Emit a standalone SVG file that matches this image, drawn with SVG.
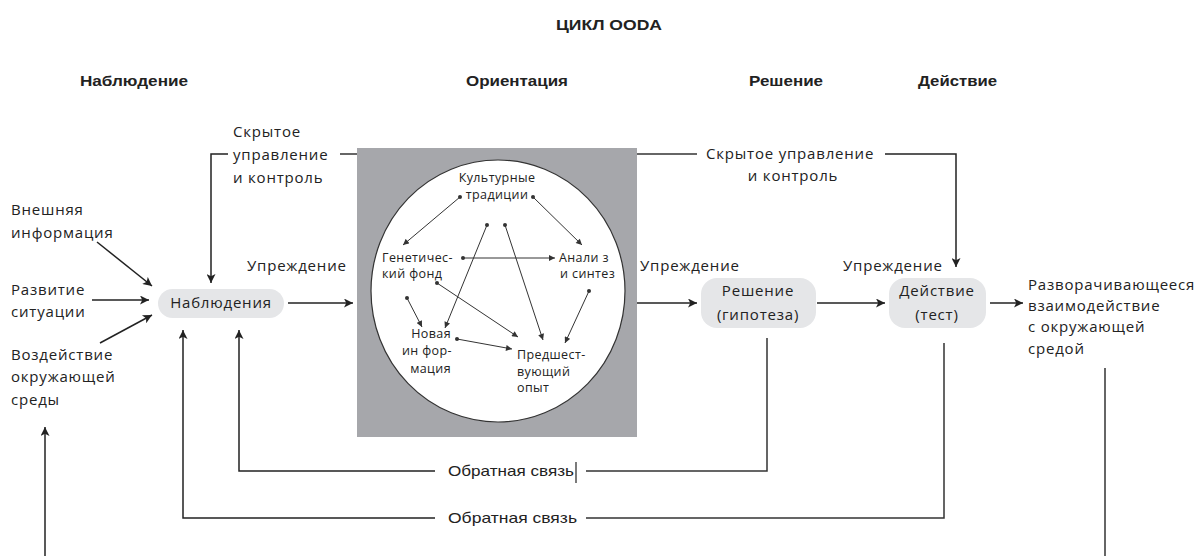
<svg xmlns="http://www.w3.org/2000/svg" width="1200" height="556" viewBox="0 0 1200 556">
<defs>
<marker id="ah" viewBox="0 0 10 10" refX="10" refY="5" markerWidth="11" markerHeight="9" markerUnits="userSpaceOnUse" orient="auto"><path d="M0,0 L10,5 L0,10 L2.5,5 Z" fill="#222"/></marker>
<marker id="sah" viewBox="0 0 10 10" refX="10" refY="5" markerWidth="7" markerHeight="6" markerUnits="userSpaceOnUse" orient="auto"><path d="M0,0 L10,5 L0,10 Z" fill="#333"/></marker>
<marker id="dot" viewBox="0 0 4 4" refX="2" refY="2" markerWidth="4" markerHeight="4" markerUnits="userSpaceOnUse"><circle cx="2" cy="2" r="2" fill="#333"/></marker>
</defs>
<style>
text{font-family:"Open Sans","Noto Sans","DejaVu Sans",sans-serif;fill:#222}
.t{font-size:15px;letter-spacing:0.8px}
.s{font-size:12.5px;letter-spacing:0.4px}
.h{font-family:"Liberation Sans",Arial,sans-serif;font-weight:bold;font-size:15px}
.fb{font-family:"Liberation Sans",Arial,sans-serif;font-size:15px}
.c{text-anchor:middle}
.e{text-anchor:end}
.ln{fill:none;stroke:#333;stroke-width:1.5}
.ar{fill:none;stroke:#222;stroke-width:1.5;marker-end:url(#ah)}
.in{fill:none;stroke:#333;stroke-width:1;marker-start:url(#dot);marker-end:url(#sah)}
.pill{fill:#e5e6e8}
</style>
<rect width="1200" height="556" fill="#fff"/>
<g id="titles">
<text class="h" x="556" y="30" textLength="106" lengthAdjust="spacingAndGlyphs">ЦИКЛ OODA</text>
<text class="h" x="80" y="86" textLength="108" lengthAdjust="spacingAndGlyphs">Наблюдение</text>
<text class="h" x="466" y="86" textLength="102" lengthAdjust="spacingAndGlyphs">Ориентация</text>
<text class="h" x="749" y="86" textLength="74" lengthAdjust="spacingAndGlyphs">Решение</text>
<text class="h" x="918" y="86" textLength="79" lengthAdjust="spacingAndGlyphs">Действие</text>
</g>
<g id="orientation">
<rect x="357" y="148" width="280" height="289" fill="#a6a7ab"/>
<ellipse cx="498" cy="291" rx="127" ry="131" fill="#fff" stroke="#333" stroke-width="1.2"/>
<g id="culture"><text class="s c" x="497" y="182">Культурные</text><text class="s c" x="497" y="199">традиции</text></g>
<g id="genetic"><text class="s" x="382" y="262">Генетичес-</text><text class="s" x="382" y="278">кий фонд</text></g>
<g id="analysis"><text class="s" x="559" y="262">Анали з</text><text class="s" x="560" y="278">и синтез</text></g>
<g id="newinfo"><text class="s e" x="451" y="338">Новая</text><text class="s e" x="452" y="355">ин фор-</text><text class="s e" x="451" y="373">мация</text></g>
<g id="experience"><text class="s" x="517" y="359">Предшест-</text><text class="s" x="517" y="376">вующий</text><text class="s" x="517" y="392">опыт</text></g>
<g id="inner-connectors">
<path class="in" d="M460,197 L403,245"/>
<path class="in" d="M533,197 L582,245"/>
<path class="in" d="M463,258 L555,258"/>
<path class="in" d="M487,225 L445,328"/>
<path class="in" d="M505,225 L543,340"/>
<path class="in" d="M437,283 L518,337"/>
<path class="in" d="M407,298 L422,327"/>
<path class="in" d="M457,339 L512,349"/>
<path class="in" d="M589,291 L565,343"/>
</g>
</g>
<g id="observations"><rect class="pill" x="158" y="289" width="126" height="29" rx="14.5"/><text class="t c" x="221" y="308">Наблюдения</text></g>
<g id="decision"><rect class="pill" x="701" y="278" width="115" height="50" rx="16"/><text class="t c" x="758" y="296">Решение</text><text class="t c" x="758" y="320">(гипотеза)</text></g>
<g id="action"><rect class="pill" x="889" y="278" width="97" height="50" rx="16"/><text class="t c" x="937" y="296">Действие</text><text class="t c" x="937" y="320">(тест)</text></g>
<g id="labels">
<text class="t" x="11" y="215">Внешняя</text><text class="t" x="11" y="238">информация</text>
<text class="t" x="11" y="295">Развитие</text><text class="t" x="11" y="317">ситуации</text>
<text class="t" x="11" y="360">Воздействие</text><text class="t" x="11" y="382">окружающей</text><text class="t" x="11" y="405">среды</text>
<text class="t" x="233" y="137">Скрытое</text><text class="t" x="233" y="160">управление</text><text class="t" x="233" y="183">и контроль</text>
<text class="t" x="247" y="271">Упреждение</text>
<text class="t" x="640" y="271">Упреждение</text>
<text class="t" x="843" y="271">Упреждение</text>
<text class="t" x="706" y="159">Скрытое управление</text><text class="t c" x="793" y="181">и контроль</text>
<text class="t" x="1028" y="290">Разворачивающееся</text><text class="t" x="1028" y="311">взаимодействие</text><text class="t" x="1028" y="332">с окружающей</text><text class="t" x="1028" y="354">средой</text>
<text class="fb" x="448" y="476" textLength="126" lengthAdjust="spacingAndGlyphs">Обратная связь</text>
<text class="fb" x="448" y="523" textLength="129" lengthAdjust="spacingAndGlyphs">Обратная связь</text>
</g>
<g id="connectors">
<path class="ar" d="M97,242 L152,286"/>
<path class="ar" d="M92,300 L149,300"/>
<path class="ar" d="M100,343 L152,315"/>
<path class="ar" d="M288,303 L353,303"/>
<path class="ar" d="M637,303 L697,303"/>
<path class="ar" d="M817,303 L885,303"/>
<path class="ar" d="M990,303 L1023,303"/>
<path class="ln" d="M340,154 H357"/>
<path class="ar" d="M228,154 H211 V283"/>
<path class="ln" d="M637,154 H697"/>
<path class="ar" d="M885,154 H956 V267"/>
<path class="ln" d="M767,338 V471 H586"/>
<path class="ar" d="M435,471 H239 V330"/>
<path class="ln" d="M944,343 V518 H586"/>
<path class="ar" d="M435,518 H183 V330"/>
<path class="ar" d="M45,556 V427"/>
<path class="ln" d="M1105,368 V556"/>
<path d="M576,462 V483" stroke="#222" stroke-width="1.2"/>
</g>
</svg>
